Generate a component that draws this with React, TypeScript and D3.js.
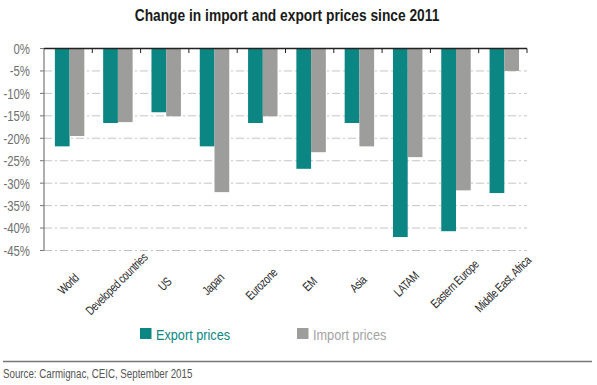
import * as d3 from 'd3'

const CATEGORIES = [
  'World', 'Developed countries', 'US', 'Japan', 'Eurozone',
  'EM', 'Asia', 'LATAM', 'Eastern Europe', 'Middle East, Africa',
]
const EXPORT_PRICES = [-21.8, -16.6, -14.2, -21.8, -16.6, -26.8, -16.6, -42.0, -40.7, -32.2]
const IMPORT_PRICES = [-19.5, -16.4, -15.1, -32.0, -15.1, -23.1, -21.8, -24.2, -31.6, -5.0]
const Y_TICKS = [0, -5, -10, -15, -20, -25, -30, -35, -40, -45]

const SERIES = [
  { name: 'Export prices', values: EXPORT_PRICES, color: '#0c8683', text: '#0c8683' },
  { name: 'Import prices', values: IMPORT_PRICES, color: '#9d9d9b', text: '#a3a3a3' },
]

const W = 597
const H = 385
const FONT = '"Liberation Sans", Arial, sans-serif'

// text squeezed horizontally around its anchor point, to look like a condensed face
function NText({ x, y, rotate = 0, sx = 0.82, children, ...rest }: any) {
  return (
    <text transform={`translate(${x},${y}) rotate(${rotate}) scale(${sx},1)`} {...rest}>
      {children}
    </text>
  )
}

export default function App() {
  const left = 44
  const right = 527
  const top = 48.5
  const bottom = 250.5

  const y = d3.scaleLinear().domain([0, -45]).range([top, bottom])
  const x0 = d3.scaleBand<string>().domain(CATEGORIES).range([left, right]).padding(0)
  const bw = x0.bandwidth()
  const x1 = d3.scaleBand<string>()
    .domain(SERIES.map((s) => s.name))
    .range([bw * 0.225, bw * 0.835])
    .padding(0)

  const boundaries = CATEGORIES.map((c) => x0(c)!).concat([right])

  return (
    <svg width={W} height={H} style={{ position: 'absolute', left: 0, top: 0, background: '#fff' }}
      fontFamily={FONT}>
      <NText x={287} y={21} textAnchor="middle" fontSize={16.8} fontWeight="bold" fill="#1a1a1a">
        Change in import and export prices since 2011
      </NText>

      {/* gridlines */}
      {Y_TICKS.filter((t) => t !== 0).map((t) => (
        <line key={t} x1={left} x2={right} y1={y(t)} y2={y(t)}
          stroke="#c4c4c4" strokeWidth={1} strokeDasharray="8,3,2,3" />
      ))}

      {/* bars */}
      {CATEGORIES.map((c, i) => (
        <g key={c} transform={`translate(${x0(c)},0)`}>
          {SERIES.map((s) => (
            <rect key={s.name} x={x1(s.name)} y={y(0)} width={x1.bandwidth()}
              height={y(s.values[i]) - y(0)} fill={s.color} />
          ))}
        </g>
      ))}

      {/* y axis */}
      <line x1={left} x2={left} y1={top} y2={bottom} stroke="#777" strokeWidth={1.2} />
      {Y_TICKS.map((t) => (
        <g key={t}>
          <line x1={left - 4} x2={left} y1={y(t)} y2={y(t)} stroke="#777" strokeWidth={1} />
          <NText x={30} y={y(t)} dy="0.36em" sx={0.76} textAnchor="end" fontSize={15} fill="#707070">
            {t}%
          </NText>
        </g>
      ))}

      {/* zero line with category ticks */}
      <line x1={left} x2={right} y1={y(0)} y2={y(0)} stroke="#222" strokeWidth={1.3} />
      {boundaries.slice(1).map((bx, i) => (
        <line key={i} x1={bx} x2={bx} y1={y(0)} y2={y(0) + 4.5} stroke="#222" strokeWidth={1} />
      ))}

      {/* category labels */}
      {CATEGORIES.map((c) => (
        <NText key={c} x={x0(c)! + bw / 2} y={284} rotate={-45} sx={0.78} textAnchor="middle"
          dy="0.35em" fontSize={12.5} letterSpacing={-0.5} fill="#2a2a2a">
          {c}
        </NText>
      ))}

      {/* legend */}
      {SERIES.map((s, i) => {
        const lx = 140 + i * 157
        return (
          <g key={s.name}>
            <rect x={lx} y={328} width={11.5} height={11} fill={s.color} />
            <NText x={lx + 16} y={339.5} fontSize={15.5} fill={s.text}>{s.name}</NText>
          </g>
        )
      })}

      <line x1={3} x2={592} y1={361.5} y2={361.5} stroke="#777" strokeWidth={1.3} />
      <NText x={3} y={378} sx={0.78} fontSize={12.5} fill="#555">
        Source: Carmignac, CEIC, September 2015
      </NText>
    </svg>
  )
}
